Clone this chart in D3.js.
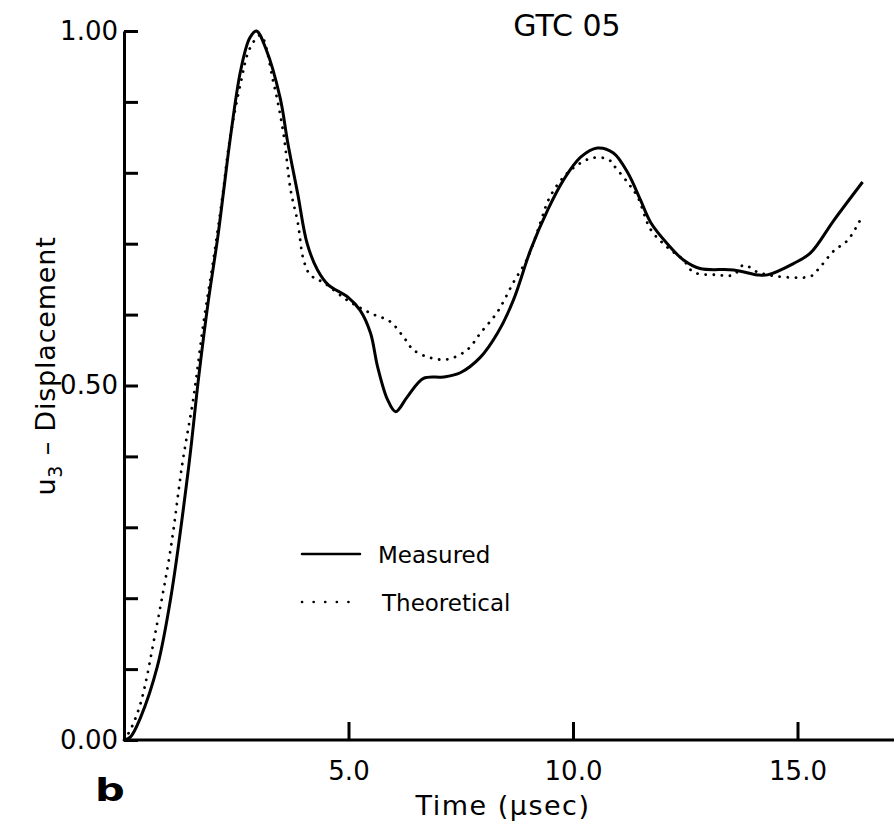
<!DOCTYPE html>
<html lang="en">
    <head>
        <meta charset="utf-8">
        <title>GTC 05</title>
        <script type="text/javascript" src="https://cdn.jsdelivr.net/npm/d3@7/dist/d3.min.js"></script>
        <style type="text/css">
            body { margin: 0; background: #fff; }
            .axis path,
            .axis line {
                fill: none;
                stroke: black;
                stroke-width: 3px;
            }
            .axis text {
                font-family: "DejaVu Sans", sans-serif;
                font-size: 26px;
                fill: black;
            }
        </style>
    </head>
    <body>
        <div class="chart"></div>
        <script type="text/javascript">
            // 数据：时间(μsec) 与位移 u3
            var measuredT = [0, 0.14, 0.37, 0.74, 1.04, 1.44, 1.66, 1.88, 2.09, 2.22, 2.37, 2.60, 2.80, 2.95, 3.16,
                             3.48, 3.64, 3.87, 4.08, 4.31, 4.55, 4.98, 5.26, 5.49, 5.65, 5.87, 6.05, 6.31, 6.67,
                             7.11, 7.49, 7.94, 8.32, 8.67, 9.06, 9.44, 9.79, 10.17, 10.54, 10.90, 11.22, 11.50,
                             11.73, 12.10, 12.46, 12.83, 13.58, 14.11, 14.33, 14.91, 15.29, 15.81, 16.45];
            var measuredU = [0, 0.004, 0.032, 0.103, 0.20, 0.385, 0.51, 0.62, 0.71, 0.775, 0.85, 0.945, 0.99, 1.0, 0.975,
                             0.905, 0.845, 0.77, 0.70, 0.663, 0.642, 0.625, 0.606, 0.574, 0.526, 0.48, 0.463, 0.484, 0.51,
                             0.512, 0.518, 0.54, 0.574, 0.62, 0.692, 0.748, 0.79, 0.822, 0.835, 0.828, 0.80, 0.762,
                             0.73, 0.70, 0.677, 0.665, 0.663, 0.656, 0.656, 0.672, 0.687, 0.733, 0.787];
            var theoryT = [0, 0.14, 0.37, 0.74, 1.04, 1.30, 1.55, 1.77, 1.99, 2.20, 2.34, 2.60, 2.80, 3.04, 3.33,
                           3.55, 3.71, 3.87, 4.00, 4.15, 4.45, 4.98, 5.49, 5.93, 6.23, 6.45, 6.83, 7.21, 7.64,
                           7.94, 8.32, 8.67, 8.99, 9.27, 9.47, 9.79, 10.10, 10.43, 10.79, 10.90, 11.22, 11.44,
                           11.73, 12.10, 12.46, 12.68, 13.22, 13.58, 13.80, 14.11, 14.55, 15.29, 15.45, 15.81, 16.12, 16.45];
            var theoryU = [0, 0.014, 0.052, 0.165, 0.27, 0.39, 0.484, 0.588, 0.677, 0.77, 0.84, 0.927, 0.975, 0.994, 0.927,
                           0.856, 0.776, 0.73, 0.677, 0.656, 0.645, 0.62, 0.602, 0.59, 0.568, 0.55, 0.539, 0.537, 0.55,
                           0.574, 0.604, 0.645, 0.68, 0.729, 0.764, 0.794, 0.811, 0.821, 0.819, 0.811, 0.786, 0.766,
                           0.72, 0.695, 0.677, 0.66, 0.656, 0.656, 0.67, 0.66, 0.654, 0.654, 0.663, 0.69, 0.705, 0.74];
            var yTicks = [0, 0.1, 0.2, 0.3, 0.4, 0.5, 0.6, 0.7, 0.8, 0.9, 1.0];
            var yLabeled = [0, 0.5, 1.0];
            var xTicks = [5, 10, 15];

            var w = 894;
            var h = 827;
            var svg = d3.select("body div.chart")
                        .append("svg")
                        .attr("width", w)
                        .attr("height", h);

            // 比例尺
            var xScale = d3.scaleLinear()
                           .domain([0, 16.5])
                           .range([124, 124 + 44.9 * 16.5]);
            var yScale = d3.scaleLinear()
                           .domain([0, 1])
                           .range([740, 31]);

            var measured = measuredT.map(function(t, i){ return [t, measuredU[i]]; });
            var theory = theoryT.map(function(t, i){ return [t, theoryU[i]]; });

            var line = d3.line()
                         .x(function(d){ return xScale(d[0]); })
                         .y(function(d){ return yScale(d[1]); })
                         .curve(d3.curveCatmullRom.alpha(0.5));

            svg.append("path")
               .datum(theory)
               .attr("d", line)
               .attr("fill", "none")
               .attr("stroke", "black")
               .attr("stroke-width", 2.8)
               .attr("stroke-linecap", "round")
               .attr("stroke-dasharray", "0.1 8");

            svg.append("path")
               .datum(measured)
               .attr("d", line)
               .attr("fill", "none")
               .attr("stroke", "black")
               .attr("stroke-width", 3);

            // x轴
            var xAxis = d3.axisBottom(xScale)
                          .tickValues(xTicks)
                          .tickSizeInner(-18)
                          .tickSizeOuter(0)
                          .tickPadding(22)
                          .tickFormat(d3.format(".1f"));
            var gx = svg.append("g")
               .attr("class", "axis")
               .attr("transform", "translate(0," + yScale(0) + ")")
               .call(xAxis);
            gx.select(".domain").attr("d", "M" + xScale(0) + ",0H" + (w + 2));

            // y轴
            var yAxis = d3.axisLeft(yScale)
                          .tickValues(yTicks)
                          .tickSizeInner(-14)
                          .tickSizeOuter(0)
                          .tickPadding(6)
                          .tickFormat(function(d){
                              return yLabeled.some(function(v){ return Math.abs(v - d) < 1e-9; }) ? d3.format(".2f")(d) : "";
                          });
            svg.append("g")
               .attr("class", "axis")
               .attr("transform", "translate(" + xScale(0) + ",0)")
               .call(yAxis);

            // 标题与轴标签
            var font = "DejaVu Sans, sans-serif";
            svg.append("text")
               .attr("x", 567)
               .attr("y", 36)
               .attr("text-anchor", "middle")
               .attr("font-family", font)
               .attr("font-size", "30px")
               .text("GTC 05");

            svg.append("text")
               .attr("x", 503)
               .attr("y", 815)
               .attr("text-anchor", "middle")
               .attr("font-family", font)
               .attr("font-size", "27px")
               .attr("letter-spacing", "1.5px")
               .text("Time  (\u03bcsec)");

            var ylab = svg.append("text")
               .attr("transform", "translate(55,366) rotate(-90)")
               .attr("text-anchor", "middle")
               .attr("font-family", font)
               .attr("font-size", "27px")
               .attr("letter-spacing", "0.8px");
            ylab.append("tspan").text("u");
            ylab.append("tspan").attr("font-size", "19px").attr("dy", 7).text("3");
            ylab.append("tspan").attr("dy", -7).text(" \u2013  Displacement");

            svg.append("text")
               .attr("transform", "translate(95,801) scale(1.3,1)")
               .attr("font-family", font)
               .attr("font-weight", "bold")
               .attr("font-size", "32px")
               .text("b");

            // 图例
            var legendSeries = ["Measured", "Theoretical"];
            var legend = svg.selectAll("g.legend")
               .data(legendSeries)
               .enter()
               .append("g")
               .attr("class", "legend")
               .attr("transform", function(d, i){ return "translate(302," + (554 + i * 48) + ")"; });
            legend.append("line")
               .attr("x1", 0).attr("x2", 58)
               .attr("y1", 0).attr("y2", 0)
               .attr("stroke", "black")
               .attr("stroke-width", function(d, i){ return i === 0 ? 2.5 : 2.6; })
               .attr("stroke-linecap", "round")
               .attr("stroke-dasharray", function(d, i){ return i === 0 ? null : "0.1 11.5"; });
            legend.append("text")
               .attr("x", function(d, i){ return i === 0 ? 76 : 80; })
               .attr("y", 9)
               .attr("font-family", font)
               .attr("font-size", "23px")
               .text(function(d){ return d; });
        </script>
    </body>
</html>
